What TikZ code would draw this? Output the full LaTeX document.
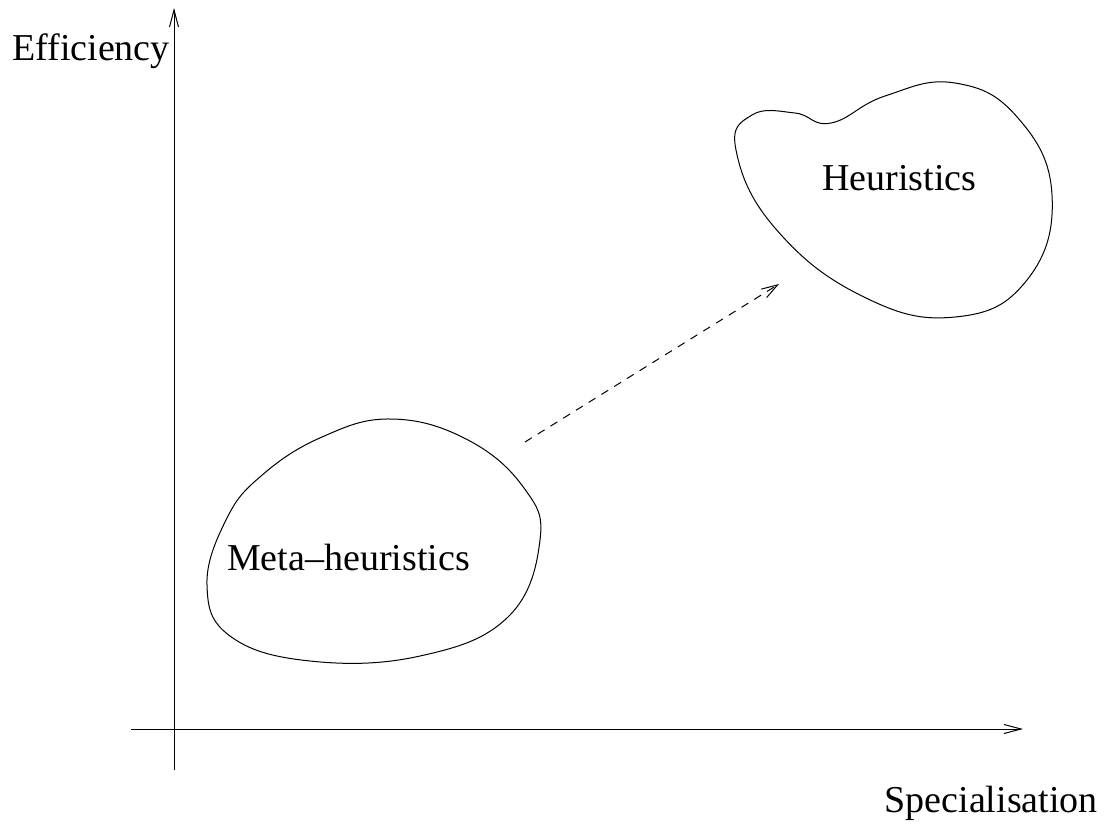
\documentclass[tikz,border=0pt]{standalone}
\usepackage{fontspec}
\setmainfont{Liberation Serif}
\usetikzlibrary{arrows.meta,positioning,calc}

\begin{document}
\begin{tikzpicture}[x=1pt,y=-1pt,
  axis/.style={line width=1pt,-{Straight Barb[length=17pt,width=9pt]}},
  blob/.style={line width=1pt},
  lbl/.style={inner sep=0pt,font=\fontsize{38}{40}\selectfont},
  trend/.style={line width=1pt,dash pattern=on 8pt off 7pt,-{Straight Barb[length=16pt,width=10pt]}}]
\useasboundingbox (0,0) rectangle (1106,823);
\coordinate (ybot) at (174,770);\coordinate (ytop) at (174,8);
\coordinate (xleft) at (131,729);\coordinate (xright) at (1023,729);
\draw[axis] (ybot)--(ytop);
\draw[axis] (xleft)--(xright);
\node[lbl,anchor=base east] (eff) at (170,60) {Efficiency};
\node[lbl,anchor=base east] (spec) at (1098,812) {Specialisation};
% the two regions
\draw[blob] plot[smooth cycle,tension=.75] coordinates {(736,150) (752,115) (795,113) (831,123) (885,96) (955,83) (1018,118) (1052,195) (1027,280) (955,317) (862,296) (775,228)};
\draw[blob] plot[smooth cycle,tension=.7] coordinates {(392,419) (468,440) (524,488) (540,540) (508,617) (420,656) (310,661) (230,636) (207,585) (226,520) (261,476) (322,437)};
\node[lbl,anchor=base west] (heur) at (822,190) {Heuristics};
\node[lbl,anchor=base west] (meta) at (227,570) {Meta--heuristics};
\coordinate (from) at (525,442);\coordinate (to) at (779,284);
\draw[trend] (from)--(to);
\end{tikzpicture}
\end{document}
